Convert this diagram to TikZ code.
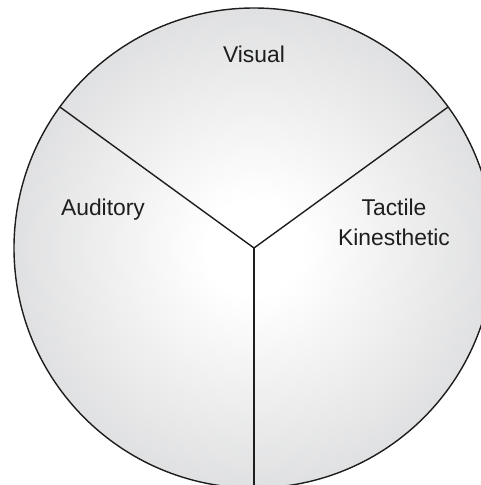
\documentclass[tikz,border=0pt]{standalone}
\usepackage{fontspec}
\setmainfont{Liberation Sans}
\usepackage{tikz}
\usetikzlibrary{calc}
\definecolor{rimgray}{RGB}{203,204,206}
\definecolor{inkblack}{RGB}{30,30,30}
\pgfdeclareradialshading{discshade}{\pgfpoint{0bp}{0bp}}{color(0bp)=(white); color(5bp)=(white); color(30bp)=(rimgray!75!white); color(50bp)=(rimgray)}
\tikzset{
  disc/.style={draw=inkblack, line width=0.8pt, shading=discshade},
  spoke/.style={draw=inkblack, line width=0.8pt},
  sense/.style={font=\fontsize{13}{17}\selectfont, text=inkblack, inner sep=0pt, align=center}
}
\begin{document}
\begin{tikzpicture}[x=0.02cm,y=0.02cm]
  \useasboundingbox (0,0) rectangle (481,485);
  \clip (0,0) rectangle (481,485);
  % wheel
  \coordinate (hub) at (254,237);
  \path[disc] (hub) circle[radius=240];
  \coordinate (upl) at ($(hub)+(144:240)$);
  \coordinate (upr) at ($(hub)+(36:240)$);
  \coordinate (dn) at ($(hub)+(270:260)$);
  \draw[spoke] (hub)--(upl);
  \draw[spoke] (hub)--(upr);
  \draw[spoke] (hub)--(dn);

  % labels
  \node[sense, anchor=base] (visual) at (254,423) {Visual};
  \node[sense, anchor=base] (auditory) at (103,270) {Auditory};
  \node[sense, anchor=base] (tactile) at (394,240) {Tactile\\Kinesthetic};
\end{tikzpicture}
\end{document}
